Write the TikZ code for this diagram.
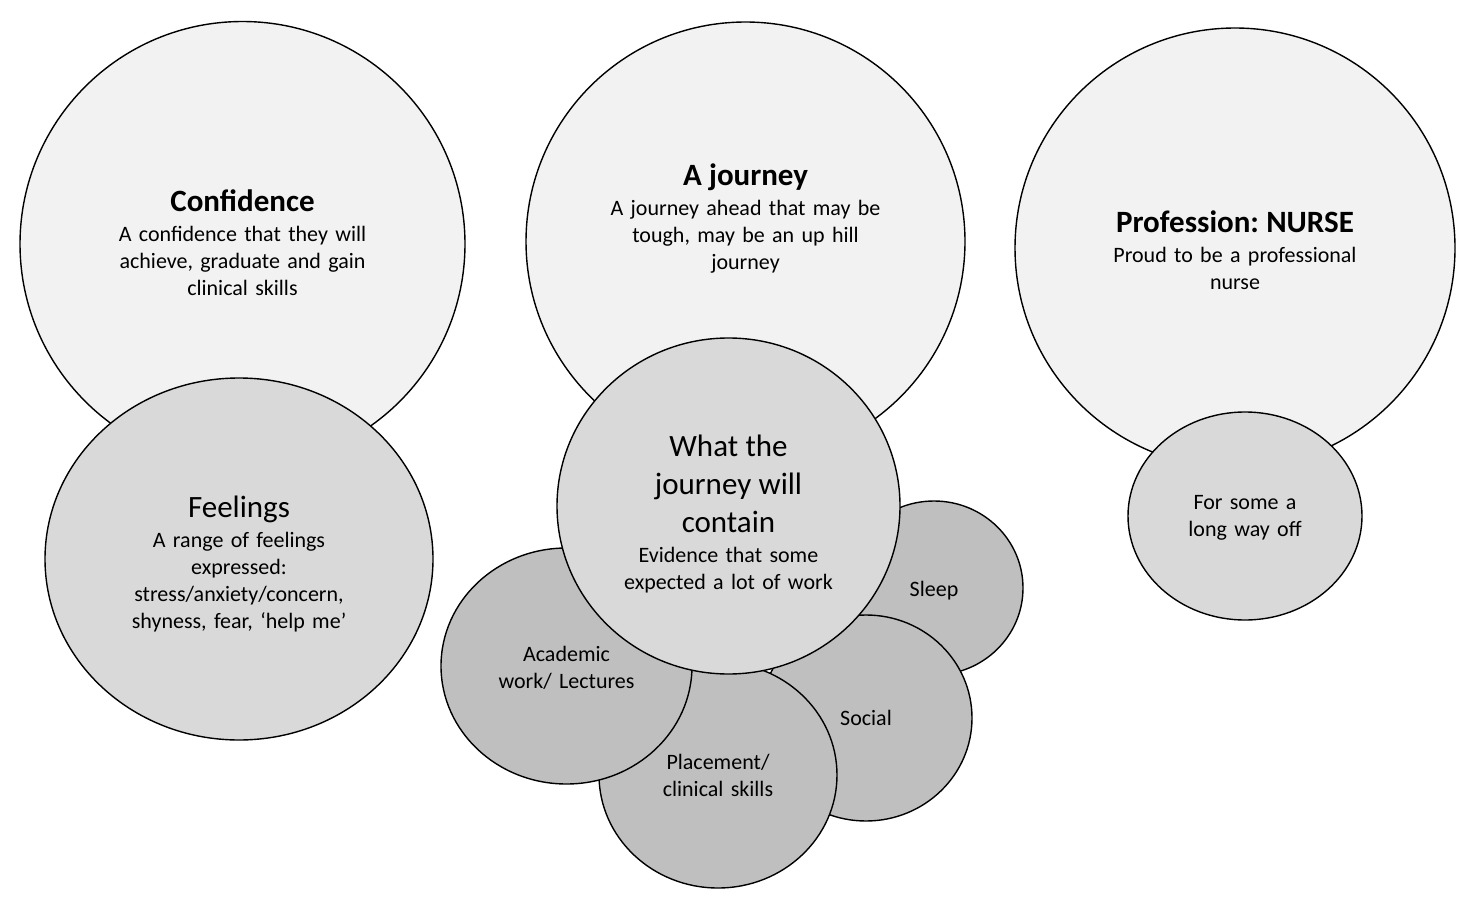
\documentclass[tikz,border=0pt]{standalone}
\usepackage{fontspec}
\setmainfont{Carlito}
\usepackage{xcolor}
\usetikzlibrary{shapes.geometric}
\definecolor{palegrey}{HTML}{F2F2F2}
\definecolor{midgrey}{HTML}{D9D9D9}
\definecolor{darkgrey}{HTML}{BFBFBF}
\newcommand{\bodyfont}{\fontsize{22}{27}\selectfont}
\newcommand{\bigfont}{\fontsize{31}{38}\selectfont}
\newcommand{\ttl}[1]{{\bigfont\bfseries #1\par}\vspace{3pt}}
\tikzset{
  circ/.style={ellipse,draw=black,line width=1.4pt,inner sep=0pt,outer sep=0pt},
  palecirc/.style={circ,fill=palegrey},
  midcirc/.style={circ,fill=midgrey},
  darkcirc/.style={circ,fill=darkgrey},
  txt/.style={align=center,text width=320pt,inner sep=0pt,font=\bodyfont,
    execute at begin node={\frenchspacing\lineskiplimit=-100pt\parskip=0pt}}
}
\begin{document}
\begin{tikzpicture}[x=1pt,y=-1pt]
\useasboundingbox (0,0) rectangle (1462,901);
% big circles
\node[palecirc,minimum width=445pt,minimum height=445pt] (conf) at (242.5,244) {};
\node[palecirc,minimum width=439pt,minimum height=439pt] (journey) at (745.5,241.5) {};
\node[palecirc,minimum width=440pt,minimum height=440pt] (prof) at (1235,248) {};
% circles below them
\node[midcirc,minimum width=388pt,minimum height=362pt] (feel) at (239,559) {};
\node[midcirc,minimum width=234pt,minimum height=208pt] (faroff) at (1245,516) {};
% what the journey holds
\node[darkcirc,minimum width=178pt,minimum height=174pt] (sleep) at (934,588) {};
\node[darkcirc,minimum width=212pt,minimum height=206pt] (social) at (866,718) {};
\node[darkcirc,minimum width=238pt,minimum height=226pt] (place) at (718,775) {};
\node[darkcirc,minimum width=251pt,minimum height=236pt] (acad) at (566.5,666) {};
\node[midcirc,minimum width=343pt,minimum height=336pt] (contain) at (728.5,506) {};
% texts
\node[txt] (conftxt) at ([yshift=1pt]conf.center) {\ttl{Confidence}A confidence that they will\\ achieve, graduate and gain\\ clinical skills};
\node[txt] (journeytxt) at ([yshift=23pt]journey.center) {\ttl{A journey}A journey ahead that may be\\ tough, may be an up hill\\ journey};
\node[txt] (proftxt) at ([yshift=-2pt]prof.center) {\ttl{Profession: NURSE}Proud to be a professional\\ nurse};
\node[txt] (feeltxt) at ([yshift=-5pt]feel.center) {{\bigfont Feelings\par}\vspace{3pt}A range of feelings\\ expressed:\\ stress/anxiety/concern,\\ shyness, fear, ‘help me’};
\node[txt] (faronetxt) at ([yshift=-2pt]faroff.center) {For some a\\ long way off};
\node[txt] (containtxt) at ([yshift=-8.5pt]contain.center) {{\bigfont What the\\ journey will\\ contain\par}\vspace{3pt}Evidence that some\\ expected a lot of work};
\node[txt] (sleeptxt) at ([yshift=-3pt]sleep.center) {Sleep};
\node[txt] (socialtxt) at (social) {Social};
\node[txt] (placetxt) at (place) {Placement/\\ clinical skills};
\node[txt] (acadtxt) at ([yshift=-2pt]acad.center) {Academic\\ work/ Lectures};
\end{tikzpicture}
\end{document}
